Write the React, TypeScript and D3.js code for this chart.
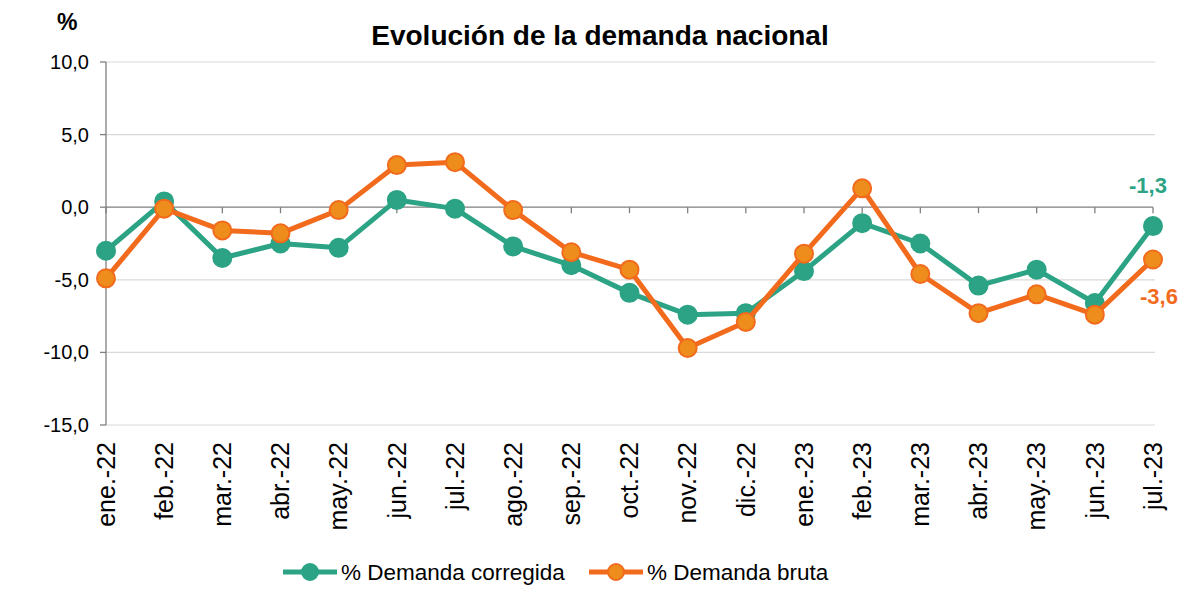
import React from 'react';
import * as d3 from 'd3';

const months = [
  'ene.-22', 'feb.-22', 'mar.-22', 'abr.-22', 'may.-22', 'jun.-22', 'jul.-22',
  'ago.-22', 'sep.-22', 'oct.-22', 'nov.-22', 'dic.-22', 'ene.-23', 'feb.-23',
  'mar.-23', 'abr.-23', 'may.-23', 'jun.-23', 'jul.-23',
];
const corregida = [-3.0, 0.4, -3.5, -2.5, -2.8, 0.5, -0.1, -2.7, -4.0, -5.9, -7.4, -7.3, -4.4, -1.1, -2.5, -5.4, -4.3, -6.6, -1.3];
const bruta = [-4.9, -0.1, -1.6, -1.8, -0.2, 2.9, 3.1, -0.2, -3.1, -4.3, -9.7, -7.9, -3.2, 1.3, -4.6, -7.3, -6.0, -7.4, -3.6];
const yTicks = [10, 5, 0, -5, -10, -15];

const GREEN = '#2ba384';
const ORANGE = '#f26b1d';
const ORANGE_FILL = '#ee8c1c';
const FONT = 'Arial, "Liberation Sans", sans-serif';

const fmt = (v: number) => d3.format('.1f')(v).replace('.', ',').replace('−', '-');

export default function App() {
  const width = 1200;
  const height = 602;
  const left = 106;
  const right = 1153;
  const top = 62;
  const bottom = 425;

  const x = d3.scalePoint<string>().domain(months).range([left, right]);
  const y = d3.scaleLinear().domain([-15, 10]).range([bottom, top]);

  const line = d3
    .line<number>()
    .x((_, i) => x(months[i]) as number)
    .y((d) => y(d));

  const series = [
    { name: '% Demanda corregida', values: corregida, stroke: GREEN, fill: GREEN },
    { name: '% Demanda bruta', values: bruta, stroke: ORANGE, fill: ORANGE_FILL },
  ];

  const last = months.length - 1;

  return (
    <svg
      width={width}
      height={height}
      style={{ position: 'absolute', left: 0, top: 0, background: '#fff' }}
      fontFamily={FONT}
    >
      <text x={57} y={30} fontSize={23} fontWeight="bold" fill="#000">%</text>
      <text x={600} y={45} textAnchor="middle" fontSize={28} fontWeight="bold" fill="#000">
        Evolución de la demanda nacional
      </text>

      {/* grid + y axis */}
      {yTicks.map((t) => (
        <g key={t}>
          {t !== 0 && (
            <line x1={left} x2={right + 2} y1={y(t)} y2={y(t)} stroke="#d9d9d9" strokeWidth={1.2} />
          )}
          <line x1={left - 6} x2={left} y1={y(t)} y2={y(t)} stroke="#7f7f7f" strokeWidth={1.3} />
          <text x={89} y={y(t)} dy="0.35em" textAnchor="end" fontSize={20} fill="#000">
            {fmt(t)}
          </text>
        </g>
      ))}
      <line x1={left} x2={left} y1={top} y2={bottom} stroke="#7f7f7f" strokeWidth={1.3} />
      <line x1={left} x2={right} y1={y(0)} y2={y(0)} stroke="#7f7f7f" strokeWidth={1.3} />
      {months.map((m) => (
        <line key={m} x1={x(m)} x2={x(m)} y1={y(0)} y2={y(0) + 6} stroke="#7f7f7f" strokeWidth={1.3} />
      ))}

      {/* x labels */}
      {months.map((m) => (
        <text
          key={m}
          transform={`translate(${x(m)},442) rotate(-90)`}
          dy="0.35em"
          textAnchor="end"
          fontSize={25}
          fill="#000"
        >
          {m}
        </text>
      ))}

      {/* series */}
      {series.map((s) => (
        <g key={s.name}>
          <path d={line(s.values) || ''} fill="none" stroke={s.stroke} strokeWidth={5} strokeLinejoin="round" />
          {s.values.map((v, i) => (
            <circle key={i} cx={x(months[i])} cy={y(v)} r={9} fill={s.fill} stroke={s.stroke} strokeWidth={2} />
          ))}
        </g>
      ))}

      {/* end labels */}
      <text x={1148} y={y(corregida[last]) - 33} textAnchor="middle" fontSize={22} fontWeight="bold" fill={GREEN}>
        {fmt(corregida[last])}
      </text>
      <text x={1140} y={y(bruta[last]) + 45} fontSize={22} fontWeight="bold" fill={ORANGE}>
        {fmt(bruta[last])}
      </text>

      {/* legend */}
      {series.map((s, i) => {
        const lx = i === 0 ? 283 : 589;
        return (
          <g key={s.name}>
            <line x1={lx} x2={lx + 54} y1={572} y2={572} stroke={s.stroke} strokeWidth={5} />
            <circle cx={lx + 27} cy={572} r={8} fill={s.fill} stroke={s.stroke} strokeWidth={2} />
            <text x={lx + 58} y={572} dy="0.35em" fontSize={22.5} fill="#000">{s.name}</text>
          </g>
        );
      })}
    </svg>
  );
}
